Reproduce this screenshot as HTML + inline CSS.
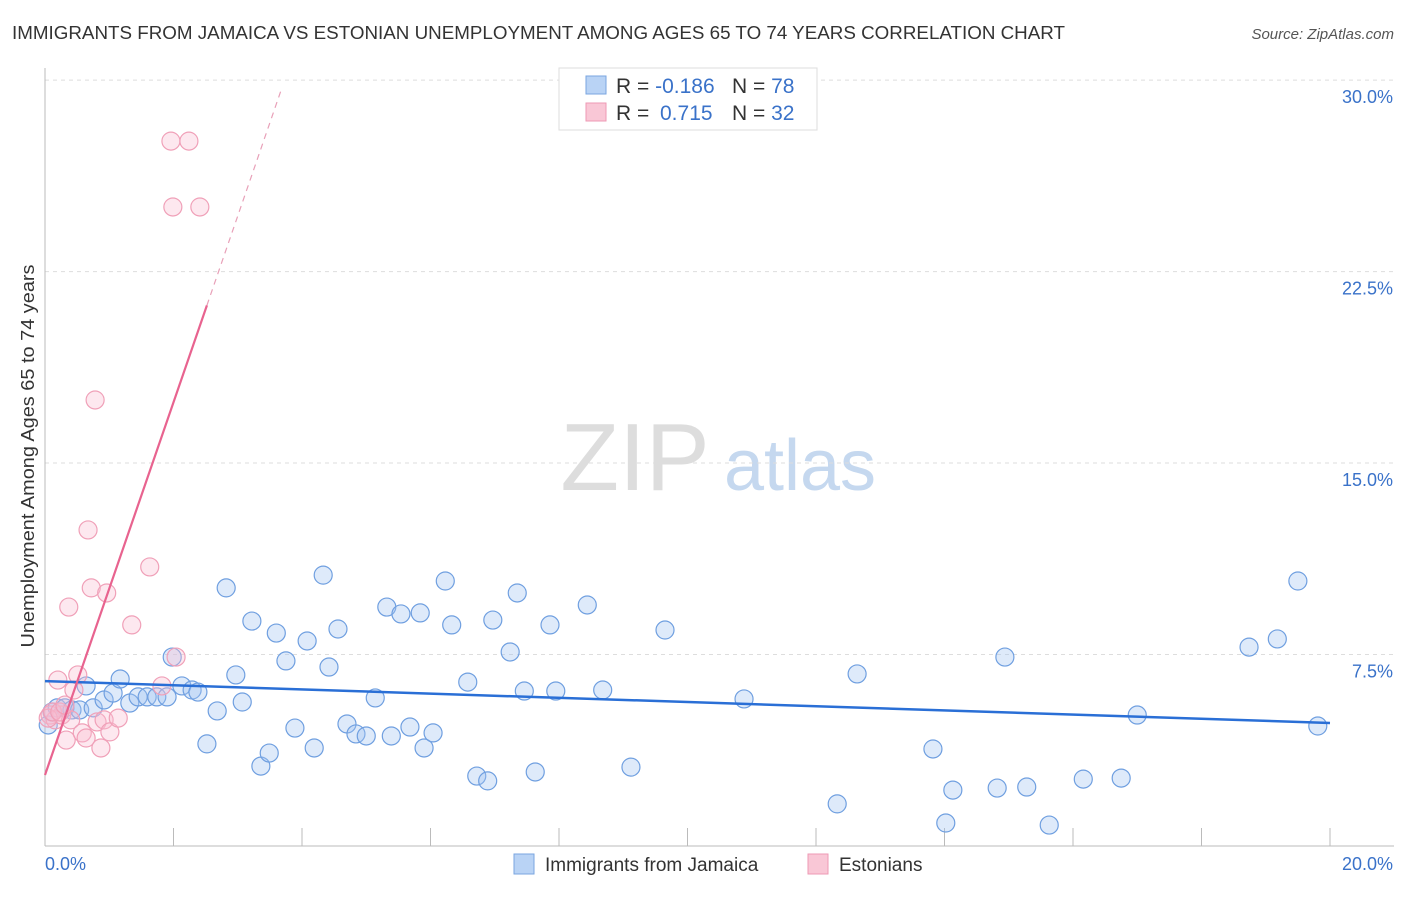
<!DOCTYPE html>
<html><head><meta charset="utf-8">
<style>
body{margin:0;background:#fff;font-family:"Liberation Sans",sans-serif;}
svg text{font-family:"Liberation Sans",sans-serif;}
</style></head>
<body>
<svg id="chart" width="1406" height="892">
<text x="12" y="39" font-size="18" fill="#333" textLength="1053" lengthAdjust="spacingAndGlyphs">IMMIGRANTS FROM JAMAICA VS ESTONIAN UNEMPLOYMENT AMONG AGES 65 TO 74 YEARS CORRELATION CHART</text>
<text x="1394" y="39" font-size="15" fill="#555" font-style="italic" text-anchor="end">Source: ZipAtlas.com</text>
<text x="0" y="0" transform="translate(34,456) rotate(-90)" font-size="18" fill="#333" text-anchor="middle" textLength="383" lengthAdjust="spacingAndGlyphs">Unemployment Among Ages 65 to 74 years</text>
<g>
<text x="635" y="490" font-size="96" fill="#ddd" font-family="Liberation Serif" text-anchor="middle">ZIP</text>
<text x="800" y="490" font-size="72" fill="#c5d8ef" text-anchor="middle">atlas</text>
</g>
<g id="grid"></g><g id="axes"></g><g id="pts"></g><g id="lines"></g>
<g>
<rect x="559" y="68" width="258" height="62" fill="#fff" stroke="#ddd"/>
<rect x="586" y="76" width="20" height="18" fill="#b9d3f5" stroke="#7aa6e0"/>
<rect x="586" y="103" width="20" height="18" fill="#f9c7d6" stroke="#ee9ab4"/>
<text x="616" y="93" font-size="21" fill="#333">R = <tspan fill="#3a72c9">-0.186</tspan></text>
<text x="732" y="93" font-size="21" fill="#333">N = <tspan fill="#3a72c9">78</tspan></text>
<text x="616" y="120" font-size="21" fill="#333">R = <tspan fill="#3a72c9" x="660">0.715</tspan></text>
<text x="732" y="120" font-size="21" fill="#333">N = <tspan fill="#3a72c9">32</tspan></text>
</g>
<g>
<rect x="514" y="854" width="20" height="20" fill="#b9d3f5" stroke="#7aa6e0"/>
<text x="545" y="871" font-size="19" fill="#333">Immigrants from Jamaica</text>
<rect x="808" y="854" width="20" height="20" fill="#f9c7d6" stroke="#ee9ab4"/>
<text x="839" y="871" font-size="19" fill="#333">Estonians</text>
</g>
</svg>
<script>
const blueX=[0.05,0.11,0.19,0.31,0.42,0.54,0.64,0.75,0.92,1.06,1.17,1.32,1.45,1.59,1.74,1.90,1.98,2.13,2.29,2.38,2.52,2.68,2.82,2.97,3.07,3.22,3.36,3.49,3.60,3.75,3.89,4.08,4.19,4.33,4.42,4.56,4.70,4.84,5.00,5.14,5.32,5.39,5.54,5.68,5.84,5.90,6.04,6.23,6.33,6.58,6.72,6.89,6.97,7.24,7.35,7.46,7.63,7.86,7.95,8.44,8.68,9.12,9.65,10.88,12.33,12.64,13.82,14.02,14.13,14.82,14.94,15.28,15.63,16.16,16.75,17.00,18.74,19.18,19.50,19.81];
const blueY=[4.74,5.25,5.41,5.41,5.33,5.33,6.27,5.41,5.72,5.99,6.54,5.60,5.84,5.84,5.84,5.84,7.40,6.27,6.11,6.03,4.00,5.29,10.11,6.70,5.64,8.81,3.13,3.64,8.34,7.25,4.62,8.03,3.84,10.61,7.01,8.50,4.78,4.39,4.31,5.80,9.36,4.31,9.09,4.66,9.13,3.84,4.43,10.38,8.66,6.42,2.74,2.55,8.85,7.60,9.91,6.07,2.90,8.66,6.07,9.44,6.11,3.09,8.46,5.76,1.65,6.74,3.80,0.90,2.19,2.27,7.40,2.31,0.82,2.62,2.66,5.13,7.79,8.11,10.38,4.70];
const pinkX=[0.08,0.16,0.20,0.26,0.33,0.37,0.40,0.45,0.51,0.58,0.64,0.67,0.72,0.78,0.81,0.87,0.92,0.96,1.01,1.14,1.35,1.63,1.82,1.96,2.04,1.99,2.24,2.41,0.05,0.12,0.23,0.31];
const pinkY=[5.13,4.94,6.50,5.13,4.15,9.36,4.94,6.11,6.70,4.43,4.23,12.38,10.11,17.47,4.86,3.84,4.94,9.91,4.47,5.01,8.66,10.93,6.27,27.61,7.40,25.03,27.61,25.03,5.01,5.25,5.25,5.52];
const xTicks=[0,2,4,6,8,10,12,14,16,18,20];
const yTicks=[7.5,15,22.5,30];
const blueTrend=[6.46,-0.082];
const pinkTrend=[2.78,7.3];
const NS="http://www.w3.org/2000/svg";
const X=v=>45+v*64.25, Y=v=>846-v*25.53;
function mk(t,a,p){const e=document.createElementNS(NS,t);for(const k in a)e.setAttribute(k,a[k]);p.appendChild(e);return e;}
const grid=document.getElementById('grid'),axes=document.getElementById('axes'),pts=document.getElementById('pts'),lines=document.getElementById('lines');
yTicks.forEach(v=>{
 const l=mk('line',{x1:45,x2:1394,y1:Y(v),y2:Y(v),stroke:'#ddd','stroke-dasharray':'4,4'},grid);
 
 
 const t=mk('text',{x:1393,y:Y(v)+23,'font-size':18,fill:'#3a72c9','text-anchor':'end'},axes);
 t.textContent=v.toFixed(1)+'%';
 
 
});
const al=mk('line',{x1:45,x2:45,y1:68,y2:846,stroke:'#bbb'},axes);


const bl=mk('line',{x1:45,x2:1394,y1:846,y2:846,stroke:'#bbb'},axes);


xTicks.forEach(v=>{
 const l=mk('line',{x1:X(v),x2:X(v),y1:828,y2:846,stroke:'#bbb'},axes);
 
 
});
[[0,'start'],[20,'end']].forEach(([v,a])=>{
 const t=mk('text',{x:v==0?45:1393,y:870,'font-size':18,fill:'#3a72c9','text-anchor':a},axes);
 t.textContent=v.toFixed(1)+'%';
 
 
});
blueX.forEach((x,i)=>{
 const c=mk('circle',{cx:X(x),cy:Y(blueY[i]),r:9,fill:'rgba(160,195,240,0.35)',stroke:'#6f9fe0','stroke-width':1.2},pts);
 
 
});
pinkX.forEach((x,i)=>{
 const c=mk('circle',{cx:X(x),cy:Y(pinkY[i]),r:9,fill:'rgba(248,190,210,0.35)',stroke:'#f0a0b8','stroke-width':1.2},pts);
 
 
});
const bt=mk('line',{x1:X(0),y1:Y(blueTrend[0]),x2:X(20),y2:Y(blueTrend[0]+20*blueTrend[1]),stroke:'#2a6fd6','stroke-width':2.5},lines);


const pe=2.52, pd=3.67;
const pt=mk('line',{x1:X(0),y1:Y(pinkTrend[0]),x2:X(pe),y2:Y(pinkTrend[0]+pe*pinkTrend[1]),stroke:'#e8638f','stroke-width':2.2},lines);


const pdl=mk('line',{x1:X(pe),y1:Y(pinkTrend[0]+pe*pinkTrend[1]),x2:X(pd),y2:Y(pinkTrend[0]+pd*pinkTrend[1]),stroke:'#e8a0b8','stroke-width':1.2,'stroke-dasharray':'6,5'},lines);


</script>
</body></html>
